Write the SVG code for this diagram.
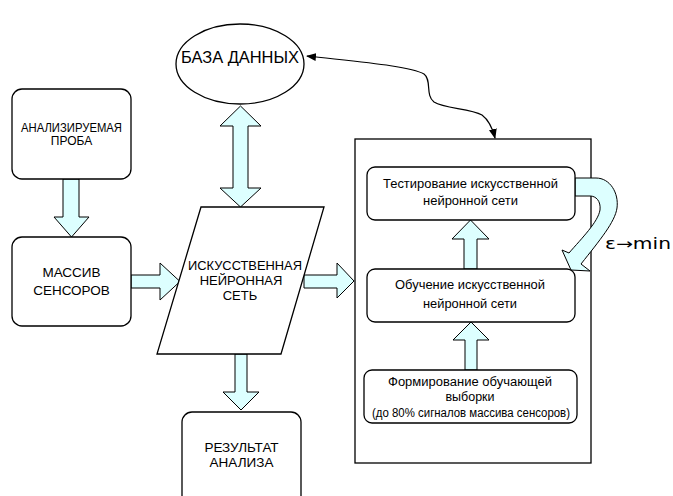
<svg xmlns="http://www.w3.org/2000/svg" width="673" height="496" viewBox="0 0 673 496">
<style>
.box{fill:#fff;stroke:#000;stroke-width:1.3}
.blk{fill:#ddffff;stroke:#000;stroke-width:1}
.t{font-family:"Liberation Sans",Arial,sans-serif;fill:#000;text-anchor:middle}
.line{fill:none;stroke:#000;stroke-width:1.2}
</style>
<defs>
<marker id="ah" markerWidth="10" markerHeight="8" refX="9" refY="4" orient="auto-start-reverse" markerUnits="userSpaceOnUse">
<path d="M0,0 L10,4 L0,8 Z" fill="#000"/>
</marker>
</defs>
<rect width="673" height="496" fill="#fff"/>
<g id="training">
<rect class="box" x="355" y="139" width="236" height="324"/>
</g>
<g id="connectors">
<polygon class="blk" points="63,179 79,179 79,217 89,217 71.5,237 54,217 63,217"/>
<polygon class="blk" points="240.5,106 261,126 248,126 248,188 261,188 240.5,207 220,188 233,188 233,126 220,126"/>
<polygon class="blk" points="131,275 160,275 160,263 180,281.5 160,300 160,288 131,288"/>
<polygon class="blk" points="304,275 337,275 337,263 354,281 337,298 337,288 304,288"/>
<polygon class="blk" points="235,354 247,354 247,392 259,392 241,410 223,392 235,392"/>
<polygon class="blk" points="464,269 477,269 477,239 489,239 470.5,220 452,239 464,239"/>
<polygon class="blk" points="465,370 477,370 477,340 489,340 471,322 453,340 465,340"/>
<path class="blk" d="M575,178 L596,178 C610,178 619,193 617,208 C615,222 600,240 581,264 L590,271 L571,270 L562,250 L569,253 C582,238 598,222 600,210 C601,201 596,196 590,196 L575,196 Z"/>
<path class="line" d="M307,56 C360,62 410,66 424,74 C432,80 425,95 434,102 C445,109 470,108 482,115 C490,121 493,130 495,138" marker-start="url(#ah)" marker-end="url(#ah)"/>
</g>
<g id="baza">
<ellipse class="box" cx="240" cy="64" rx="64" ry="40"/>
<text class="t" x="240" y="63" font-size="17" textLength="118" lengthAdjust="spacingAndGlyphs">БАЗА ДАННЫХ</text>
</g>
<g id="proba">
<rect class="box" x="12" y="89" width="119" height="90" rx="10"/>
<text class="t" x="71.5" y="132" font-size="12" textLength="101" lengthAdjust="spacingAndGlyphs">АНАЛИЗИРУЕМАЯ</text>
<text class="t" x="71.5" y="145" font-size="12">ПРОБА</text>
</g>
<g id="massiv">
<rect class="box" x="12" y="237" width="119" height="89" rx="10"/>
<text class="t" x="71.5" y="277" font-size="13.5">МАССИВ</text>
<text class="t" x="71.5" y="295" font-size="13.5">СЕНСОРОВ</text>
</g>
<g id="ins">
<polygon class="box" points="201,207 324,207 281,354 157,354"/>
<text class="t" x="245" y="270" font-size="13" textLength="114" lengthAdjust="spacingAndGlyphs">ИСКУССТВЕННАЯ</text>
<text class="t" x="241" y="285" font-size="13">НЕЙРОННАЯ</text>
<text class="t" x="240" y="300" font-size="13">СЕТЬ</text>
</g>
<g id="result">
<rect class="box" x="182" y="412" width="119" height="96" rx="10"/>
<text class="t" x="241.5" y="452" font-size="13.5">РЕЗУЛЬТАТ</text>
<text class="t" x="241.5" y="467" font-size="13.5">АНАЛИЗА</text>
</g>
<g id="test">
<rect class="box" x="367" y="167" width="208" height="53" rx="8"/>
<text class="t" x="470.5" y="188" font-size="12.5" textLength="175" lengthAdjust="spacingAndGlyphs">Тестирование искусственной</text>
<text class="t" x="470.5" y="205" font-size="12.5" textLength="95" lengthAdjust="spacingAndGlyphs">нейронной сети</text>
</g>
<g id="learn">
<rect class="box" x="367" y="269" width="208" height="53" rx="8"/>
<text class="t" x="470" y="289" font-size="12.5" textLength="150" lengthAdjust="spacingAndGlyphs">Обучение искусственной</text>
<text class="t" x="470" y="308" font-size="12.5" textLength="94" lengthAdjust="spacingAndGlyphs">нейронной сети</text>
</g>
<g id="form">
<rect class="box" x="364" y="370" width="213" height="53" rx="8"/>
<text class="t" x="470" y="386" font-size="12.5" textLength="164" lengthAdjust="spacingAndGlyphs">Формирование обучающей</text>
<text class="t" x="470" y="401" font-size="12.5">выборки</text>
<text class="t" x="471" y="417" font-size="12" textLength="198" lengthAdjust="spacingAndGlyphs">(до 80% сигналов массива сенсоров)</text>
</g>
<g id="eps">
<text x="605" y="249" font-family="'DejaVu Sans','Liberation Sans',sans-serif" font-size="15" textLength="66" lengthAdjust="spacingAndGlyphs">ε→min</text>
</g>
</svg>
